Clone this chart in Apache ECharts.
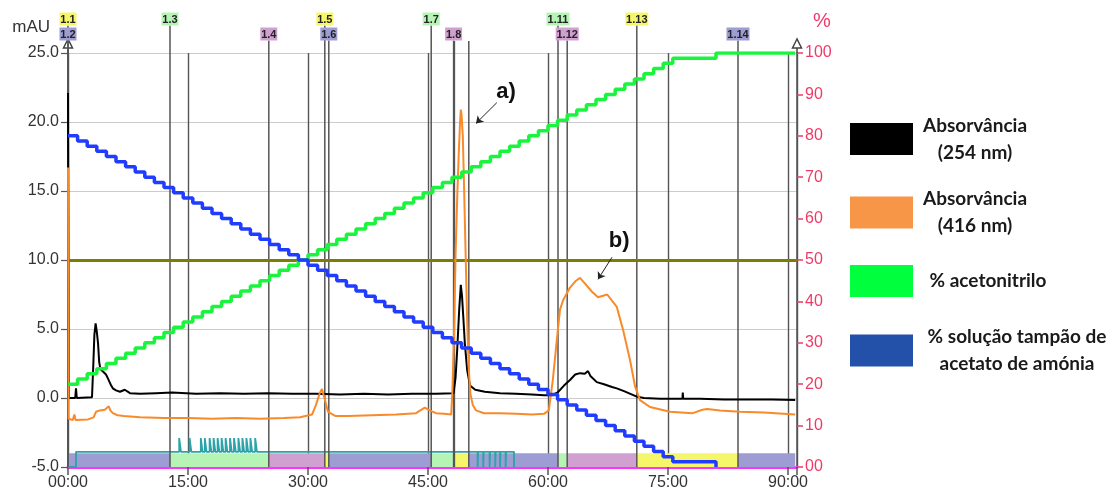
<!DOCTYPE html>
<html>
<head>
<meta charset="utf-8">
<script src="https://cdn.jsdelivr.net/npm/echarts@6/dist/echarts.min.js"></script>
<style>
  html, body { margin: 0; padding: 0; background: #ffffff; }
  #chart { width: 1115px; height: 493px; }
</style>
</head>
<body>
<div id="chart"></div>
<script>
// ---- Chromatogram traces: [time (min), absorbance (mAU)] ----
const abs254 = [
  [0, 22.1], [0.1, 0.0], [0.9, 0.0], [1.0, 0.7], [1.1, 0.0], [3.0, 0.05], [3.15, 2.2], [3.3, 4.6],
  [3.45, 5.4], [3.6, 4.8], [3.75, 4.0], [3.9, 2.6], [4.05, 2.1], [4.4, 1.9], [4.75, 1.7], [5.0, 1.4],
  [5.25, 1.4], [5.4, 0.9], [5.6, 0.7], [6.0, 0.55], [6.5, 0.45], [7.1, 0.6], [7.75, 0.35], [9, 0.3],
  [11, 0.35], [13, 0.4], [16, 0.3], [19, 0.35], [22, 0.3], [25, 0.35], [28, 0.3], [31, 0.3], [34, 0.25],
  [37, 0.3], [40, 0.25], [43, 0.3], [46, 0.3], [48.2, 0.35], [48.45, 1.5], [48.65, 3.5], [48.9, 6.4],
  [49.1, 8.2], [49.25, 7.4], [49.4, 6.0], [49.6, 4.0], [49.9, 2.0], [50.25, 0.9], [50.9, 0.6], [52.1, 0.45],
  [54, 0.35], [56, 0.3], [58, 0.25], [59.5, 0.2], [60.5, 0.2], [61.2, 0.4], [62.0, 0.9], [62.75, 1.3],
  [63.4, 1.7], [64.0, 1.8], [64.6, 1.75], [65.0, 1.95], [65.3, 1.6], [66.1, 1.15], [67.0, 1.0], [68.0, 0.8],
  [68.6, 0.7], [69.5, 0.5], [70.3, 0.3], [71.1, 0.1], [72, 0.0], [74, -0.05], [76.8, -0.05], [76.85, 0.4],
  [76.9, -0.05], [79, -0.05], [82, -0.1], [85, -0.1], [88, -0.1], [90.9, -0.15]
];
const abs416 = [
  [0, 16.7], [0.08, -1.5], [0.6, -1.6], [0.8, -1.2], [0.95, -1.6], [2.5, -1.55], [3.2, -1.4], [3.5, -1.0],
  [4.0, -0.9], [4.6, -0.85], [5.1, -0.6], [5.3, -0.9], [5.6, -1.1], [6.2, -1.25], [7, -1.3], [9, -1.4],
  [12, -1.45], [15, -1.45], [18, -1.5], [21, -1.45], [24, -1.5], [27, -1.45], [29, -1.4], [30.5, -1.2],
  [31.0, -0.5], [31.5, 0.4], [31.75, 0.65], [32.1, -0.1], [32.5, -1.0], [33.4, -1.3], [35, -1.3],
  [38, -1.25], [41, -1.2], [43.5, -1.1], [44.6, -0.7], [45.2, -0.9], [46, -1.1], [47, -1.15], [47.9, -1.2],
  [48.05, 0.5], [48.25, 4.5], [48.45, 10.5], [48.65, 14.5], [48.85, 17.8], [49.0, 19.9], [49.1, 20.9],
  [49.2, 20.5], [49.35, 19.0], [49.5, 15.5], [49.7, 10.5], [49.9, 5.5], [50.1, 2.0], [50.3, 0.3],
  [50.6, -0.5], [51.0, -0.9], [52, -1.1], [54, -1.1], [56, -1.15], [58, -1.2], [59.5, -1.15], [60.1, -0.9],
  [60.6, 1.3], [61.1, 4.2], [61.5, 6.4], [61.9, 7.1], [62.75, 8.0], [63.5, 8.5], [64.0, 8.7], [64.6, 8.3],
  [65.5, 7.7], [66.25, 7.3], [67.4, 7.5], [68.6, 6.6], [69.4, 4.9], [70.25, 2.75], [70.9, 0.8],
  [71.5, -0.15], [72.75, -0.65], [75.25, -1.0], [78.1, -1.1], [79.3, -0.85], [79.9, -0.8], [81.5, -0.9],
  [84, -1.0], [87, -1.05], [90.9, -1.2]
];

// ---- Gradient program (stepwise), right axis in % ----
const gradTimes = [0, 1.2, 2.4, 3.6, 4.8, 6, 7.2, 8.4, 9.6, 10.8, 12, 13.2, 14.4, 15.6, 16.8, 18, 19.2, 20.4,
  21.6, 22.8, 24, 25.2, 26.4, 27.6, 28.8, 30, 31.2, 32.4, 33.6, 34.8, 36, 37.2, 38.4, 39.6, 40.8, 42, 43.2,
  44.4, 45.6, 46.8, 48, 49.2, 50.4, 51.6, 52.8, 54, 55.2, 56.4, 57.6, 58.8, 60, 61.2, 62.4, 63.6, 64.8, 66,
  67.2, 68.4, 69.6, 70.8, 72, 73.2, 74.4, 75.6, 81];
const acnPct = [20, 21.25, 22.5, 23.75, 25, 26.25, 27.5, 28.75, 30, 31.25, 32.5, 33.75, 35, 36.25, 37.5,
  38.75, 40, 41.25, 42.5, 43.75, 45, 46.25, 47.5, 48.75, 50, 51.25, 52.5, 53.75, 55, 56.25, 57.5, 58.75, 60,
  61.25, 62.5, 63.75, 65, 66.25, 67.5, 68.75, 70, 71.25, 72.5, 73.75, 75, 76.25, 77.5, 78.75, 80, 81.25,
  82.5, 83.75, 85, 86.25, 87.5, 88.75, 90, 91.25, 92.5, 93.75, 95, 96.25, 97.5, 98.75, 100];
const bufPct = [80, 78.75, 77.5, 76.25, 75, 73.75, 72.5, 71.25, 70, 68.75, 67.5, 66.25, 65, 63.75, 62.5,
  61.25, 60, 58.75, 57.5, 56.25, 55, 53.75, 52.5, 51.25, 50, 48.75, 47.5, 46.25, 45, 43.75, 42.5, 41.25, 40,
  38.75, 37.5, 36.25, 35, 33.75, 32.5, 31.25, 30, 28.75, 27.5, 26.25, 25, 23.75, 22.5, 21.25, 20, 18.75,
  17.5, 16.25, 15, 13.75, 12.5, 11.25, 10, 8.75, 7.5, 6.25, 5, 3.75, 2.5, 1.25, 0];
const runEnd = 90.9;

// ---- Threshold level (mAU) ----
const thresholdLevel = 10;

// ---- Fraction collector ----
const fracNames = ['1.1', '1.2', '1.3', '1.4', '1.5', '1.6', '1.7', '1.8', '1.9', '1.10', '1.11', '1.12', '1.13', '1.14'];
const fracStart = [0, 0, 12.75, 25.1, 32.1, 32.6, 45.4, 48.2, 48.3, 50.1, 61.25, 62.4, 71.1, 83.75];
const hiddenLabels = ['1.9', '1.10'];

// collector signal: switch-on / off times and pulse times (min)
const collectorOn = 1.0;
const collectorOff = 55.75;
const pulseUpTimes = [13.9, 15.2, 16.6, 17.1, 17.7, 18.2, 18.7, 19.2, 19.7, 20.25, 20.75, 21.3, 21.8, 22.3, 22.8, 23.4];
const pulseDownTimes = [51.2, 51.9, 52.7, 53.4, 54.0, 54.7];

// ---- Axis ticks ----
const xTicks = [0, 15, 30, 45, 60, 75, 90];

// ---------------------------------------------------------------
const FRAC_COLORS = ['#f6f66a', '#9d9dd3', '#b6f4b6', '#d0a0d0'];
const fracColor = i => FRAC_COLORS[i % 4];
const fracEnd = fracStart.map((s, i) => i + 1 < fracStart.length ? fracStart[i + 1] : runEnd);

const LOW = -5, HIGH = -3.9, PULSE = -2.9, BAND_TOP = -4.0;
const pulseWidth = 0.22, toothWidth = 0.06;
const collector = [[0, LOW], [collectorOn, LOW], [collectorOn, HIGH]];
pulseUpTimes.forEach(t => collector.push([t, HIGH], [t, PULSE], [t + pulseWidth, PULSE], [t + pulseWidth, HIGH]));
pulseDownTimes.forEach(t => collector.push([t, HIGH], [t, LOW], [t + toothWidth, LOW], [t + toothWidth, HIGH]));
collector.push([collectorOff, HIGH], [collectorOff, LOW]);

const acnData = gradTimes.map((t, i) => [t, acnPct[i]]).concat([[runEnd, 100]]);
const bufData = gradTimes.map((t, i) => [t, bufPct[i]]);

const PINK = '#ee3a68';
const AXIS_FONT = '"Liberation Sans", Arial, sans-serif';
const LEGEND_FONT = 'Lato, "Open Sans", sans-serif';

const N254 = 'Absorvância\n(254 nm)';
const N416 = 'Absorvância\n(416 nm)';
const NACN = '% acetonitrilo';
const NBUF = '% solução tampão de\nacetato de amónia';

function legendFor(name, color, top, blockWidth) {
  return {
    data: [{ name: name, icon: 'rect', itemStyle: { color: color, borderWidth: 0 } }],
    left: 850, top: top, padding: 0, orient: 'vertical',
    itemWidth: 63, itemHeight: 32, selectedMode: false,
    formatter: n => n.split('\n').map(l => '{c|' + l + '}').join('\n'),
    textStyle: {
      fontFamily: LEGEND_FONT, fontWeight: 'bold', fontSize: 19, color: '#1a1a1a', lineHeight: 27,
      rich: { c: { width: blockWidth, align: 'center', fontFamily: LEGEND_FONT, fontWeight: 'bold',
                   fontSize: 19, lineHeight: 27, color: '#1a1a1a' } }
    }
  };
}

const chart = echarts.init(document.getElementById('chart'), null, { renderer: 'canvas' });

chart.setOption({
  animation: false,
  backgroundColor: '#ffffff',
  grid: { left: 68, right: 318, top: 53, bottom: 26, containLabel: false },
  legend: [
    legendFor(N254, '#000000', 112, 114),
    legendFor(N416, '#f79646', 185.5, 114),
    legendFor(NACN, '#00ff3c', 265, 140),
    legendFor(NBUF, '#2350a8', 323.5, 198)
  ],
  xAxis: {
    type: 'value', min: 0, max: 91.125, interval: 15,
    axisLine: { show: true, onZero: false, lineStyle: { color: '#ff33ff', width: 3 } },
    axisTick: { show: true, length: 8, lineStyle: { color: '#555', width: 1.5 } },
    axisLabel: {
      color: '#333', fontSize: 16, fontFamily: AXIS_FONT, margin: 8,
      formatter: v => xTicks.includes(v) ? String(v).padStart(2, '0') + ':00' : ''
    },
    splitLine: { show: true, lineStyle: { color: '#555', width: 1.4 } }
  },
  yAxis: [
    {
      type: 'value', min: -5, max: 25, interval: 5, position: 'left',
      name: 'mAU', nameLocation: 'end', nameGap: 17,
      nameTextStyle: { color: '#333', fontSize: 17, fontFamily: AXIS_FONT, align: 'right', padding: [0, 18, 0, 0] },
      axisLine: { show: true, onZero: false, lineStyle: { color: '#444', width: 1.5 } },
      axisTick: { show: true, length: 7, lineStyle: { color: '#555', width: 1.2 } },
      axisLabel: { color: '#333', fontSize: 16, fontFamily: AXIS_FONT, margin: 9, formatter: v => v.toFixed(1) },
      splitLine: { show: true, lineStyle: { color: '#cccccc', width: 1 } }
    },
    {
      type: 'value', min: 0, max: 100, interval: 10, position: 'right',
      name: '%', nameLocation: 'end', nameGap: 22,
      nameTextStyle: { color: PINK, fontSize: 20, fontFamily: AXIS_FONT, align: 'left', padding: [0, 0, 0, 16] },
      axisLine: { show: true, onZero: false, lineStyle: { color: '#555', width: 1.5 } },
      axisTick: { show: true, length: 6, lineStyle: { color: PINK, width: 1.5 } },
      axisLabel: { color: PINK, fontSize: 16, fontFamily: AXIS_FONT, margin: 8,
                   formatter: v => v === 0 ? '00' : String(v) },
      splitLine: { show: false }
    }
  ],
  graphic: [
    { type: 'polygon', z: 2, shape: { points: [[68, 39], [63.5, 48], [72.5, 48]] },
      style: { fill: '#ffffff', stroke: '#444', lineWidth: 1.5 } },
    { type: 'line', z: 2, shape: { x1: 68, y1: 48, x2: 68, y2: 53 }, style: { stroke: '#444', lineWidth: 1.5 } },
    { type: 'polygon', z: 2, shape: { points: [[797, 39], [792.5, 48], [801.5, 48]] },
      style: { fill: '#ffffff', stroke: '#444', lineWidth: 1.5 } },
    { type: 'line', z: 2, shape: { x1: 797, y1: 48, x2: 797, y2: 53 }, style: { stroke: '#444', lineWidth: 1.5 } }
  ],
  series: [
    {
      // coloured bands of the collected fractions
      name: 'Faixas', type: 'custom', z: 1, silent: true,
      data: fracStart.map((s, i) => [s, fracEnd[i], i, LOW]),
      encode: { x: [0, 1], y: 3 },
      renderItem: (params, api) => {
        const p0 = api.coord([api.value(0), LOW]);
        const p1 = api.coord([api.value(1), BAND_TOP]);
        return { type: 'rect', shape: { x: p0[0], y: p1[1], width: p1[0] - p0[0], height: p0[1] - p1[1] },
                 style: { fill: fracColor(api.value(2)) } };
      }
    },
    {
      name: 'Coletor', type: 'line', z: 2, silent: true, showSymbol: false,
      data: collector,
      lineStyle: { color: '#2ba3a8', width: 1.8 },
      markLine: {
        silent: true, symbol: 'none', label: { show: false },
        lineStyle: { color: '#7d7d00', width: 3, type: 'solid' },
        data: [{ yAxis: thresholdLevel }]
      }
    },
    {
      // fraction boundaries and their labels
      name: 'Frações', type: 'custom', z: 3, silent: true, clip: false,
      data: fracStart.map((s, i) => [s, fracEnd[i], i, LOW]),
      encode: { x: [0, 1], y: 3 },
      renderItem: (params, api) => {
        const i = api.value(2);
        const name = fracNames[i];
        const base = api.coord([api.value(0), LOW]);
        const top = api.coord([api.value(0), 25])[1];
        const upperRow = i % 2 === 0;
        const shown = !hiddenLabels.includes(name);
        const boxH = 13;
        const boxCY = upperRow ? top - 34 : top - 19;
        const lineTop = shown ? boxCY + boxH / 2 : top - 12;
        const children = [{
          type: 'line', shape: { x1: base[0], y1: lineTop, x2: base[0], y2: base[1] },
          style: { stroke: '#555', lineWidth: 1.5 }
        }];
        if (shown) {
          const w = name.length > 3 ? 23 : 17;
          children.push({ type: 'rect', shape: { x: base[0] - w / 2, y: boxCY - boxH / 2, width: w, height: boxH },
                          style: { fill: fracColor(i) } });
          children.push({ type: 'text', style: { text: name, x: base[0], y: boxCY + 0.5, align: 'center',
                          verticalAlign: 'middle', font: 'bold 11px "Liberation Sans", Arial', fill: '#222' } });
        }
        return { type: 'group', children: children };
      }
    },
    {
      name: N254, type: 'line', z: 4, showSymbol: false, data: abs254,
      itemStyle: { color: '#000000' }, lineStyle: { color: '#000000', width: 2 }
    },
    {
      name: N416, type: 'line', z: 5, showSymbol: false, data: abs416,
      itemStyle: { color: '#f79646' }, lineStyle: { color: '#f98a2a', width: 2 },
      markLine: {
        silent: true, symbol: ['none', 'arrow'], symbolSize: 7, label: { show: false },
        lineStyle: { color: '#222', width: 1, type: 'solid' },
        data: [
          [{ coord: [53.6, 21.4] }, { coord: [51.0, 19.9] }],
          [{ coord: [68.0, 10.2] }, { coord: [66.25, 8.6] }]
        ]
      },
      markPoint: {
        silent: true, symbol: 'circle', symbolSize: 1, itemStyle: { color: 'rgba(0,0,0,0)' },
        label: { show: true, position: 'inside', formatter: p => p.name, color: '#111',
                 fontSize: 22, fontWeight: 'bold', fontFamily: AXIS_FONT },
        data: [
          { name: 'a)', coord: [54.75, 22.2] },
          { name: 'b)', coord: [68.9, 11.4] }
        ]
      }
    },
    {
      name: NACN, type: 'line', yAxisIndex: 1, z: 6, showSymbol: false, step: 'end', data: acnData,
      itemStyle: { color: '#00ff3c' }, lineStyle: { color: '#19f53c', width: 3.5 }
    },
    {
      name: NBUF, type: 'line', yAxisIndex: 1, z: 7, showSymbol: false, step: 'end', data: bufData,
      itemStyle: { color: '#2350a8' }, lineStyle: { color: '#1f3cff', width: 3.5 }
    }
  ]
});
</script>
</body>
</html>
